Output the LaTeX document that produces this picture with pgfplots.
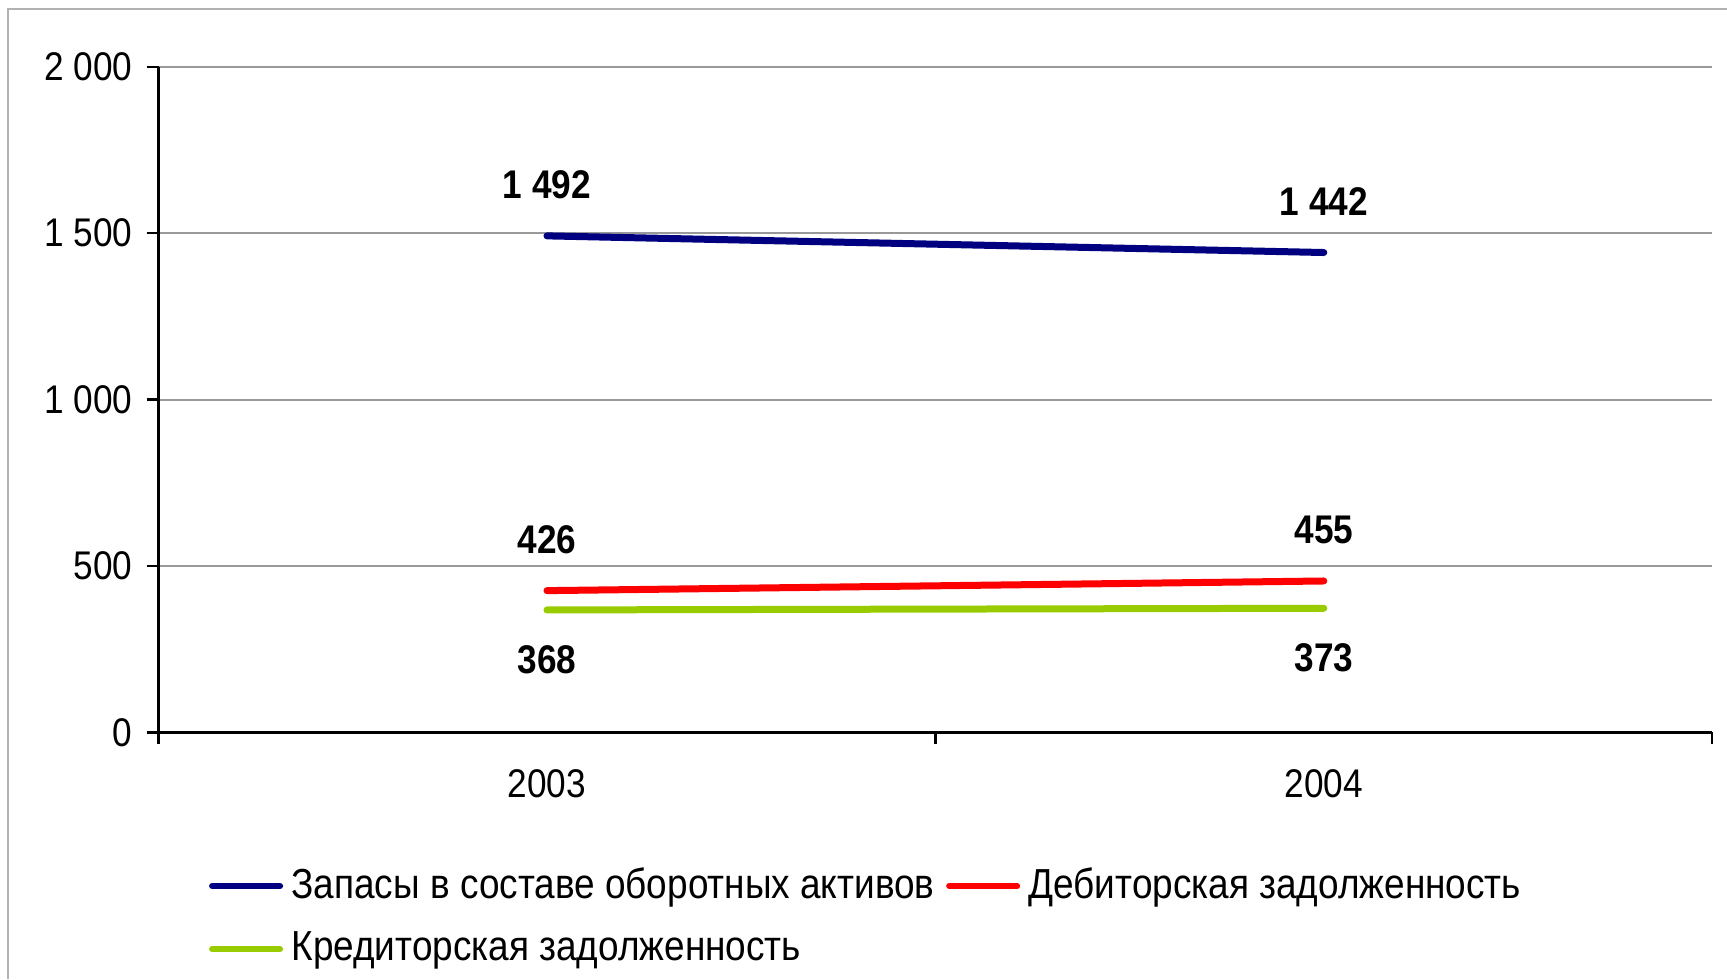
\documentclass[border=0pt]{standalone}
\usepackage{fontspec}
\setmainfont{Liberation Sans}[FakeStretch=0.88]
\usepackage{pgfplots}
\pgfplotsset{compat=1.18}
\definecolor{zapasy}{RGB}{0,0,128}
\definecolor{debit}{RGB}{255,0,0}
\definecolor{kredit}{RGB}{153,204,0}

\begin{document}
\begin{tikzpicture}
\useasboundingbox (-39.65pt,-61.65pt) rectangle (392.1pt,183.1pt);
\draw[black!30] (-37.65pt,-61.65pt) -- (-37.65pt,180.85pt) -- (392.1pt,180.85pt);
\begin{axis}[
  scale only axis,
  width=388.4pt, height=166.4pt,
  axis lines=left,
  axis line style={-, black, line width=0.6pt},
  xmin=-0.5, xmax=1.5,
  ymin=0, ymax=2000,
  xtick={-0.5,0.5,1.5}, xticklabels={},
  extra x ticks={0,1}, extra x tick labels={2003,2004},
  extra x tick style={major tick length=0pt,
    xticklabel style={yshift=-5.8pt}},
  ytick={0,500,1000,1500,2000},
  tick align=outside,
  major tick length=3pt,
  tick style={black, line width=0.6pt},
  ymajorgrids,
  grid style={black!40, line width=0.5pt},
  /pgf/number format/assume math mode=true,
  /pgf/number format/1000 sep={\ },
  ticklabel style={font=\fontsize{10}{12}\selectfont},
  nodes near coords,
  every node near coord/.append style={font=\fontsize{10}{12}\selectfont\bfseries, text=black},
  legend columns=2,
  legend cell align=left,
  legend image code/.code={\draw[#1, line width=1.5pt, line cap=round] (0pt,0pt) -- (17pt,0pt);},
  legend style={draw=none, fill=none, anchor=north west, at={(0.032,-0.196)},
    inner sep=0pt, font=\fontsize{10.5}{12}\selectfont,
    row sep=4.8pt,
    nodes={inner xsep=2.1pt, inner ysep=1pt},
    /tikz/every even column/.append style={column sep=0.8pt}},
]
\addplot[color=zapasy, line width=1.75pt, line cap=round,
  every node near coord/.append style={anchor=south, yshift=5pt}]
  coordinates {(0,1492) (1,1442)};
\addplot[color=debit, line width=1.75pt, line cap=round,
  every node near coord/.append style={anchor=south, yshift=5pt}]
  coordinates {(0,426) (1,455)};
\addplot[color=kredit, line width=1.75pt, line cap=round,
  every node near coord/.append style={anchor=north, yshift=-4.6pt}]
  coordinates {(0,368) (1,373)};
\legend{Запасы в составе оборотных активов, Дебиторская задолженность, Кредиторская задолженность}
\end{axis}
\end{tikzpicture}
\end{document}
